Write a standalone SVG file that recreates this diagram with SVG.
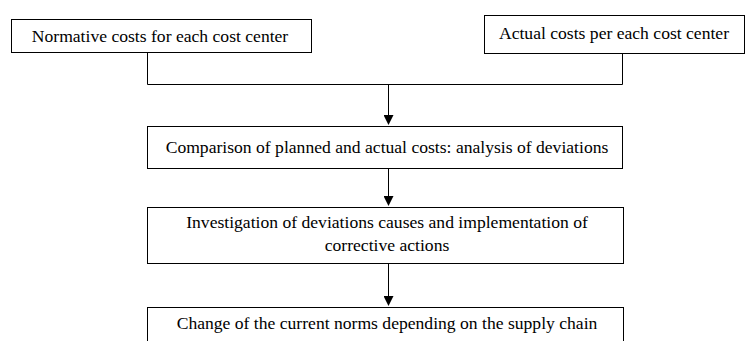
<svg xmlns="http://www.w3.org/2000/svg" width="745" height="341" viewBox="0 0 745 341">
<style>
.box{fill:#fff;stroke:#000;stroke-width:1}
.t{font-family:"Liberation Serif","Times New Roman",serif;font-size:17.6px;fill:#000;text-anchor:middle}
.c{fill:none;stroke:#000;stroke-width:1}
</style>
<defs>
<marker id="ah" markerWidth="10" markerHeight="10" refX="9" refY="5" orient="auto" markerUnits="userSpaceOnUse">
<path d="M0,0 L10,5 L0,10 Z" fill="#000"/>
</marker>
</defs>
<rect width="745" height="341" fill="#fff"/>
<g id="connectors">
<path class="c" d="M147.5,52 V84.5 H622.5 V53"/>
<path class="c" d="M388.5,84.5 V124" marker-end="url(#ah)"/>
<path class="c" d="M388.5,168 V205" marker-end="url(#ah)"/>
<path class="c" d="M388.5,263 V305" marker-end="url(#ah)"/>
</g>
<g id="n1"><rect class="box" x="11.5" y="19.5" width="300" height="33"/><text class="t" x="160" y="41.5">Normative costs for each cost center</text></g>
<g id="n2"><rect class="box" x="484.5" y="15.5" width="260" height="38"/><text class="t" x="614" y="38.5">Actual costs per each cost center</text></g>
<g id="n3"><rect class="box" x="147.5" y="126.5" width="475" height="42"/><text class="t" x="387" y="152.5">Comparison of planned and actual costs: analysis of deviations</text></g>
<g id="n4"><rect class="box" x="147.5" y="207.5" width="476" height="56"/><text class="t" x="387" y="228">Investigation of deviations causes and implementation of</text><text class="t" x="387" y="251">corrective actions</text></g>
<g id="n5"><rect class="box" x="147.5" y="307.5" width="476" height="40"/><text class="t" x="387" y="329">Change of the current norms depending on the supply chain</text></g>
</svg>
